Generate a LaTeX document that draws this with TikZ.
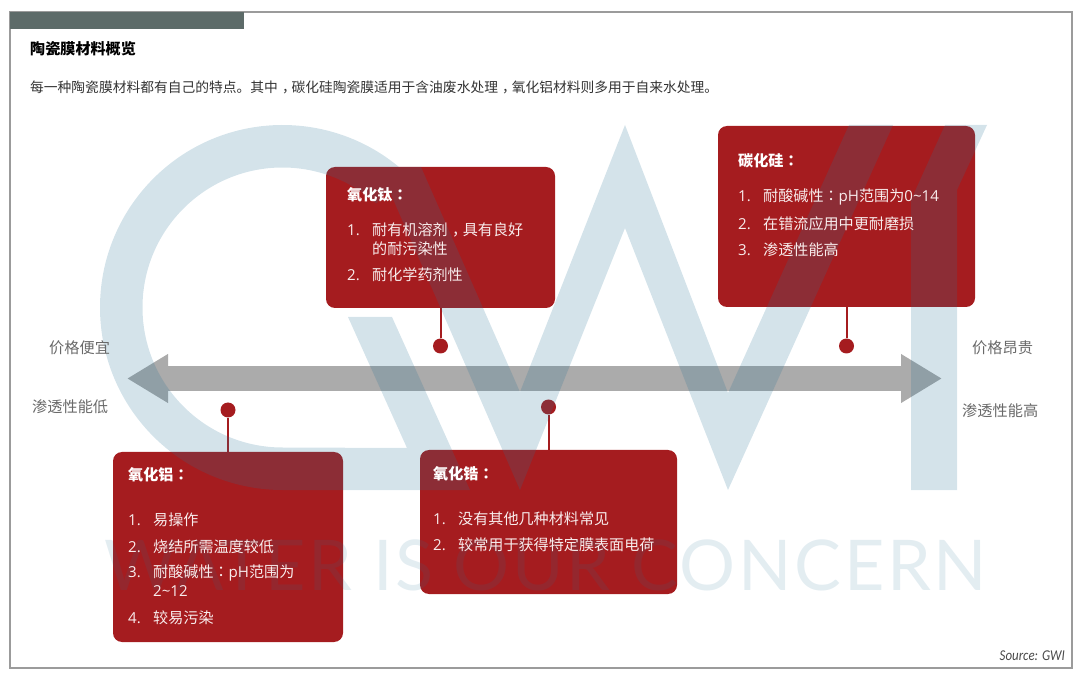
\documentclass[tikz,border=0pt]{standalone}
\usepackage{fontspec}
\setmainfont{Noto Sans CJK SC}
\newfontfamily\tcfont{Noto Sans CJK TC}
\newfontfamily\latofont[LetterSpace=3.8]{Lato}
\newfontfamily\srcfont{Carlito}
\newfontfamily\ltfont{Open Sans}
\usetikzlibrary{arrows.meta}
\definecolor{frameline}{RGB}{155, 155, 155}
\definecolor{tabgray}{RGB}{93, 107, 105}
\definecolor{barred}{RGB}{165, 28, 31}
\definecolor{shaftgray}{RGB}{171, 171, 171}
\definecolor{wmblue}{RGB}{40, 115, 150}
\definecolor{labelgray}{RGB}{105, 105, 105}
\definecolor{itemwhite}{RGB}{248, 236, 236}
\newcommand{\zhcolon}{{\tcfont ：}}
\newcommand{\zhcomma}{\hspace{.3em}，\hspace{-.3em}}
\newcommand{\itemno}[1]{\makebox[25pt][l]{\ltfont #1}}
\tikzset{
  matbox/.style={fill=barred, rounded corners=9pt, inner sep=0pt},
  pindot/.style={circle, fill=barred, minimum size=15pt, inner sep=0pt},
  pinline/.style={barred, line width=2pt},
  boxhead/.style={anchor=west, inner sep=0pt, white, font=\fontsize{15.1}{15}\selectfont\bfseries},
  boxitem/.style={anchor=west, inner sep=0pt, itemwhite, font=\fontsize{15.1}{15}\selectfont},
  sidelabel/.style={anchor=west, inner sep=0pt, labelgray, font=\fontsize{15.2}{15}\selectfont}
}
\begin{document}
\begin{tikzpicture}[x=1pt, y=-1pt]
  \useasboundingbox (0, 0) rectangle (1080, 676);

  \draw[frameline, line width=1.2pt] (10, 12) rectangle (1072, 668);
  \fill[tabgray] (10, 12) rectangle (244, 29);
  \node[anchor=west, inner sep=0pt, font=\fontsize{15.1}{15}\selectfont\bfseries] (mainhead) at (30, 48.5) {陶瓷膜材料概览};
  \node[anchor=west, inner sep=0pt, text=black!80, font=\fontsize{13.76}{14}\selectfont] (mainline) at (30, 87)
    {每一种陶瓷膜材料都有自己的特点。其中\zhcomma 碳化硅陶瓷膜适用于含油废水处理\zhcomma 氧化铝材料则多用于自来水处理。};

  % double arrow
  \coordinate (lowend) at (127, 378.5);
  \coordinate (highend) at (942, 378.5);
  \draw[shaftgray, line width=25pt, {Triangle[length=41pt, width=46pt]}-{Triangle[length=41pt, width=46pt]}] (lowend) -- (highend);

  % material boxes
  \node[matbox, minimum width=229pt, minimum height=141pt] (boxTi) at (440.5, 237.5) {};
  \node[matbox, minimum width=257pt, minimum height=181pt] (boxSi) at (846.5, 216.5) {};
  \node[matbox, minimum width=230pt, minimum height=190pt] (boxAl) at (228, 547) {};
  \node[matbox, minimum width=257pt, minimum height=144pt] (boxZr) at (548.5, 522) {};

  \node[pindot] (dotTi) at (440.5, 346) {};
  \node[pindot] (dotSi) at (846.5, 346) {};
  \node[pindot] (dotAl) at (228, 410) {};
  \node[pindot] (dotZr) at (548.5, 407) {};
  \draw[pinline] (boxTi.south) -- (dotTi);
  \draw[pinline] (boxSi.south) -- (dotSi);
  \draw[pinline] (boxAl.north) -- (dotAl);
  \draw[pinline] (boxZr.north) -- (dotZr);

  % watermark lies over the boxes and the arrow
  \fill[wmblue, opacity=0.2, nonzero rule]
    (282.5, 307.5) ++(-48:182.5) arc (-48:-270:182.5) -- (470, 490) -- (392, 317) -- (348, 317)
      -- (407, 448) -- (282.5, 447.5) arc (-270:-48:140) -- cycle
    (379, 167) -- (520, 490) -- (625, 228) -- (728, 490) -- (893, 125) -- (849, 125) -- (728, 393)
      -- (625, 125) -- (520, 392) -- (421, 167) -- cycle
    (945, 125) -- (911, 200) -- (911, 490) -- (957, 490) -- (957, 190) -- (987, 125) -- cycle;
  \node[anchor=west, inner sep=0pt, text=wmblue, text opacity=0.13, font=\fontsize{70}{70}\latofont] (wmtext) at (104, 565) {WATER IS OUR CONCERN};

  \node[sidelabel] (cheap) at (49, 348) {价格便宜};
  \node[sidelabel] (lowperm) at (32, 406.5) {渗透性能低};
  \node[sidelabel] (costly) at (972, 348) {价格昂贵};
  \node[sidelabel] (highperm) at (962, 411) {渗透性能高};

  \node[boxhead] (headTi) at (347, 194.5) {氧化钛\zhcolon};
  \node[boxitem] (itemTiA) at (347, 230) {\itemno{1.}耐有机溶剂\zhcomma 具有良好};
  \node[boxitem] (itemTiB) at (372, 249) {的耐污染性};
  \node[boxitem] (itemTiC) at (347, 275) {\itemno{2.}耐化学药剂性};

  \node[boxhead] (headSi) at (738, 161) {碳化硅\zhcolon};
  \node[boxitem] (itemSiA) at (738, 197) {\itemno{1.}耐酸碱性\zhcolon{\ltfont pH}范围为{\ltfont 0\textasciitilde 14}};
  \node[boxitem] (itemSiB) at (738, 223.5) {\itemno{2.}在错流应用中更耐磨损};
  \node[boxitem] (itemSiC) at (738, 250) {\itemno{3.}渗透性能高};

  \node[boxhead] (headAl) at (128, 475) {氧化铝\zhcolon};
  \node[boxitem] (itemAlA) at (128, 520) {\itemno{1.}易操作};
  \node[boxitem] (itemAlB) at (128, 546.5) {\itemno{2.}烧结所需温度较低};
  \node[boxitem] (itemAlC) at (128, 573) {\itemno{3.}耐酸碱性\zhcolon{\ltfont pH}范围为};
  \node[boxitem] (itemAlD) at (153, 591) {{\ltfont 2\textasciitilde 12}};
  \node[boxitem] (itemAlE) at (128, 617.5) {\itemno{4.}较易污染};

  \node[boxhead] (headZr) at (433, 474) {氧化锆\zhcolon};
  \node[boxitem] (itemZrA) at (433, 519) {\itemno{1.}没有其他几种材料常见};
  \node[boxitem] (itemZrB) at (433, 545) {\itemno{2.}较常用于获得特定膜表面电荷};

  \node[anchor=east, inner sep=0pt, xscale=0.86, labelgray!70!black, font=\fontsize{15}{15}\srcfont\itshape] (source) at (1065, 656) {Source: GWI};
\end{tikzpicture}
\end{document}
